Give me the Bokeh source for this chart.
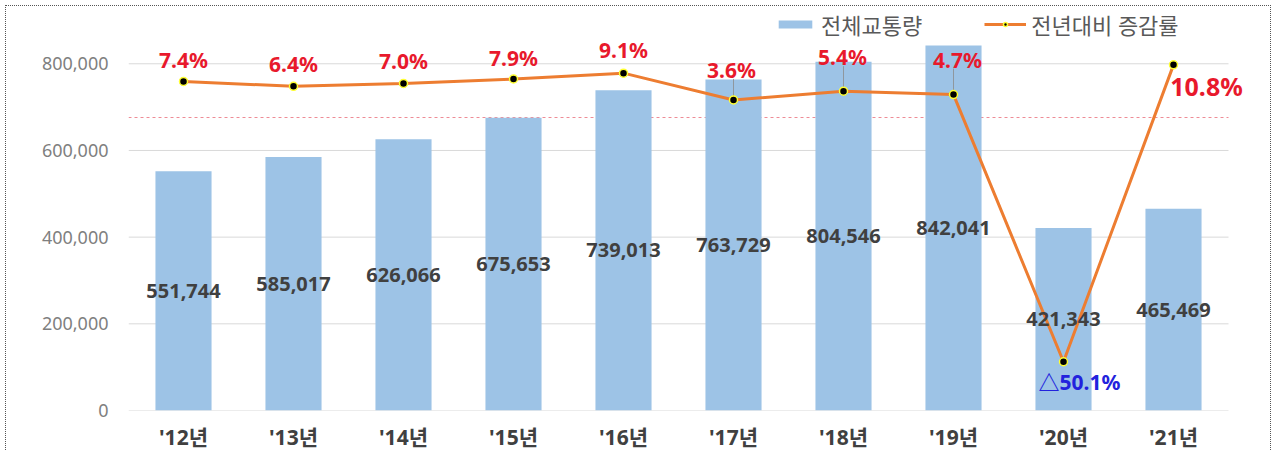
from bokeh.plotting import figure
from bokeh.models import (ColumnDataSource, Range1d, FixedTicker,
                          NumeralTickFormatter, LabelSet, Legend, LegendItem)
from bokeh.core.properties import value
from bokeh.embed import file_html
from bokeh.resources import INLINE

# ---- data ----
years = ["'12년", "'13년", "'14년", "'15년", "'16년", "'17년", "'18년", "'19년", "'20년", "'21년"]
traffic = [551744, 585017, 626066, 675653, 739013, 763729, 804546, 842041, 421343, 465469]
growth = [7.4, 6.4, 7.0, 7.9, 9.1, 3.6, 5.4, 4.7, -50.1, 10.8]
growth_text = ["7.4%", "6.4%", "7.0%", "7.9%", "9.1%", "3.6%", "5.4%", "4.7%", "△50.1%", "10.8%"]
y_ticks = [0, 200000, 400000, 600000, 800000]

# ---- label styling (not data) ----
g_dx = [0, 0, 0, 0, 0, -2, -1, 4, 16, 33]
g_dy = [21, 22, 22, 21, 23, 30, 34, 35, -20, -21]
g_color = ["#E8192C"] * 8 + ["#2222DD", "#E8192C"]
g_size = ["21px"] * 9 + ["25px"]
leader_idx = [5, 6, 7]

FONT = "'Noto Sans', 'Noto Sans CJK KR', sans-serif"

n = len(years)
idx = list(range(n))
FRAME_H = 404
PCT_RANGE = (-60.1, 22.77)
px_per_pct = FRAME_H / (PCT_RANGE[1] - PCT_RANGE[0])

src = ColumnDataSource(dict(
    x=idx, year=years, traffic=traffic, half=[t / 2 for t in traffic],
    tlabel=[f"{t:,}" for t in traffic],
    growth=growth, gtext=growth_text, dx=g_dx, dy=g_dy, gcolor=g_color, gsize=g_size,
))

p = figure(x_range=Range1d(-0.5, n - 0.5 + 0.2), y_range=Range1d(0, 932150),
           frame_width=1122, frame_height=FRAME_H,
           output_backend="svg", toolbar_location=None,
           min_border_left=122, min_border_right=20, min_border_top=0, min_border_bottom=41,
           styles={"border": "1px dotted #555555", "margin-left": "5px", "margin-top": "5px"})
p.outline_line_color = None
p.background_fill_color = "white"
p.extra_y_ranges = {"pct": Range1d(*PCT_RANGE)}

# horizontal gridlines over the category span
p.segment(x0=[-0.5] * len(y_ticks), x1=[n - 0.5] * len(y_ticks), y0=y_ticks, y1=y_ticks,
          line_color="#D9D9D9", line_width=1)
# pink dotted zero line of the secondary axis
p.segment(x0=[-0.5], x1=[n - 0.5], y0=[0], y1=[0], y_range_name="pct",
          line_color="#EE8C96", line_dash="3 3", line_width=1.2)

bars = p.vbar(x="x", top="traffic", width=0.51, source=src,
              fill_color="#9DC3E6", line_color=None)

# leader lines from labels to points
p.segment(x0=[idx[i] for i in leader_idx], x1=[idx[i] for i in leader_idx],
          y0=[growth[i] for i in leader_idx],
          y1=[growth[i] + (g_dy[i] - 9) / px_per_pct for i in leader_idx],
          y_range_name="pct", line_color="#8C8C8C", line_width=0.8)

line = p.line(x="x", y="growth", source=src, y_range_name="pct",
              line_color="#ED7D31", line_width=3)
marks = p.scatter(x="x", y="growth", source=src, y_range_name="pct", size=8,
                  fill_color="black", line_color="#FFFF33", line_width=1.5)

# bar value labels (centered)
p.add_layout(LabelSet(x="x", y="half", text="tlabel", source=src,
                      text_align="center", text_baseline="middle",
                      text_font=value(FONT), text_font_style="bold",
                      text_font_size=value("20px"), text_color=value("#404040")))

# growth labels
p.add_layout(LabelSet(x="x", y="growth", text="gtext", source=src, y_range_name="pct",
                      x_offset="dx", y_offset="dy",
                      text_align="center", text_baseline="middle",
                      text_font=value(FONT), text_font_style="bold",
                      text_font_size="gsize", text_color="gcolor"))

# axes
p.yaxis.ticker = FixedTicker(ticks=y_ticks)
p.yaxis.formatter = NumeralTickFormatter(format="0,0")
p.yaxis.axis_line_color = None
p.yaxis.major_tick_line_color = None
p.yaxis.minor_tick_line_color = None
p.yaxis.major_tick_out = 0
p.yaxis.major_label_standoff = 20
p.yaxis.major_label_text_font = FONT
p.yaxis.major_label_text_font_size = "18px"
p.yaxis.major_label_text_color = "#7F7F7F"

p.xaxis.ticker = FixedTicker(ticks=idx)
p.xaxis.major_label_overrides = {i: y for i, y in zip(idx, years)}
p.xaxis.axis_line_color = None
p.xaxis.major_tick_line_color = None
p.xaxis.minor_tick_line_color = None
p.xaxis.major_tick_out = 0
p.xaxis.major_label_standoff = 12
p.xaxis.major_label_text_font = FONT
p.xaxis.major_label_text_font_style = "bold"
p.xaxis.major_label_text_font_size = "21px"
p.xaxis.major_label_text_color = "#404040"

p.xgrid.grid_line_color = None
p.ygrid.grid_line_color = None

legend = Legend(items=[LegendItem(label="전체교통량", renderers=[bars]),
                       LegendItem(label="전년대비 증감률", renderers=[line, marks])],
                location=(646, 370), orientation="horizontal",
                glyph_width=42, glyph_height=10, label_height=20, label_standoff=5,
                spacing=62, padding=0, margin=0,
                border_line_color=None, background_fill_alpha=0,
                label_text_font=FONT, label_text_font_size="22px",
                label_text_color="#595959")
p.add_layout(legend)

open("out.html", "w").write(file_html(p, INLINE))
